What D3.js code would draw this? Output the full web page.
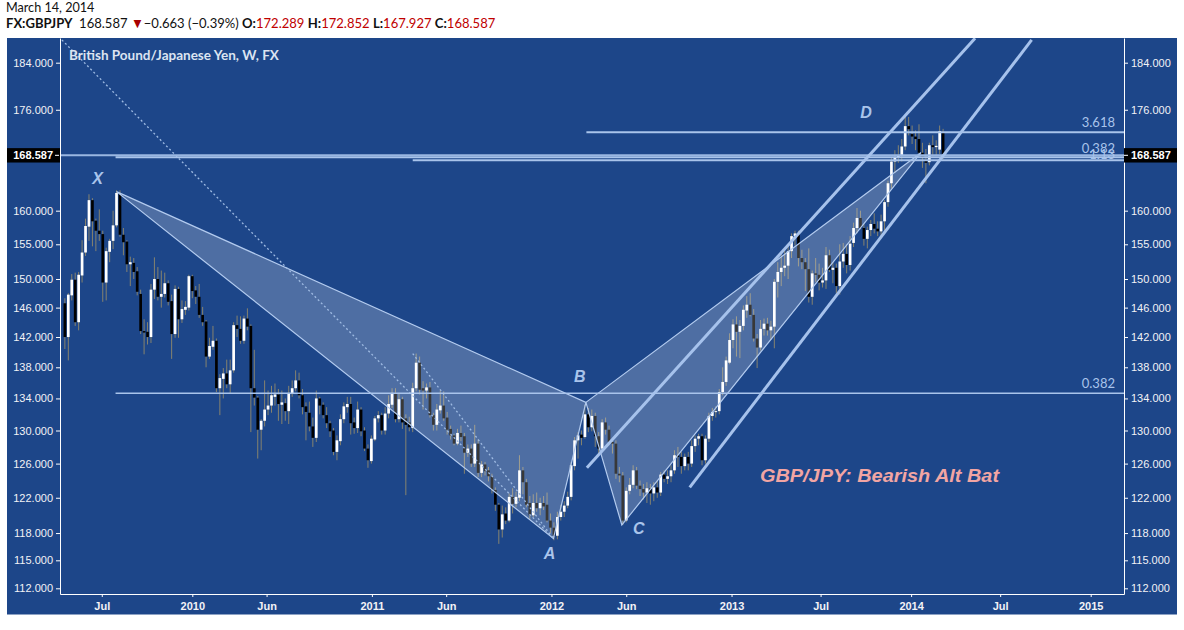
<!DOCTYPE html>
<html><head><meta charset="utf-8">
<script src="https://cdn.jsdelivr.net/npm/d3@7"></script>
<style>body{margin:0;background:#fff;} svg{display:block}</style>
</head><body>
<svg id="c" width="1184" height="630"></svg>
<script>
// ---------------- DATA ----------------
const firstWeek = "2009-04-17";
const opens = [146.6,142.0,147.7,149.9,144.0,150.5,153.8,157.6,161.6,158.5,157.0,156.5,149.5,153.9,155.5,157.8,162.7,156.4,155.4,152.1,152.3,151.1,147.9,142.8,142.7,142.0,148.5,150.0,147.5,147.9,149.4,146.9,142.4,148.6,144.4,145.7,146.0,150.4,148.4,147.5,145.0,144.1,139.4,140.7,141.5,135.3,136.5,137.2,135.8,137.6,143.6,143.1,141.5,144.5,143.5,135.3,134.1,130.1,131.2,132.6,133.1,134.2,134.5,133.2,133.4,132.4,134.6,135.3,136.3,134.4,133.0,132.2,130.5,129.1,134.0,133.2,131.9,130.9,130.0,127.4,128.7,131.4,132.9,133.3,131.0,130.3,132.6,130.0,127.8,126.3,128.9,131.5,131.9,130.0,132.1,133.2,134.7,131.4,133.9,131.5,131.0,130.3,135.3,138.6,135.3,135.0,135.4,131.9,130.7,132.5,133.1,131.6,130.2,129.4,128.4,129.7,129.3,127.3,127.8,126.0,128.4,124.9,125.9,125.2,124.5,122.9,121.2,118.4,120.2,119.4,122.1,121.3,122.0,125.2,123.8,121.4,120.0,121.4,120.8,121.4,121.2,119.4,118.6,117.7,119.8,120.4,121.1,122.1,125.7,128.8,129.5,129.2,132.0,130.4,131.8,129.3,127.8,131.0,130.1,128.6,128.4,124.8,124.6,119.4,122.8,123.5,125.2,123.4,123.0,122.6,123.1,122.5,123.2,122.6,124.7,124.2,124.5,125.2,127.0,126.8,125.7,126.8,126.0,128.1,129.0,129.3,126.4,129.0,131.8,132.3,132.4,134.8,136.1,138.6,141.6,143.7,142.7,143.5,145.6,146.4,145.0,141.8,140.6,143.1,143.8,142.9,143.4,149.6,151.0,151.6,151.9,154.0,156.2,156.6,153.0,152.4,151.4,147.5,150.8,150.6,149.5,149.8,153.4,151.3,151.6,149.0,152.5,153.6,152.0,155.2,157.4,158.9,157.4,155.8,157.1,158.0,157.3,156.9,158.4,161.3,164.2,167.6,168.2,168.6,170.0,173.3,172.0,171.6,171.2,169.0,167.9,167.5,170.2,169.9,169.5,172.289];
const highs = [147.3,148.0,150.7,150.9,151.0,155.6,158.8,162.5,161.9,158.8,160.2,157.0,154.5,155.8,160.0,163.1,163.1,157.4,155.6,153.2,153.0,151.7,148.5,144.4,144.0,149.3,153.1,151.7,151.2,150.9,149.8,147.8,149.1,148.9,147.0,146.9,150.6,150.6,149.0,149.3,146.1,144.3,141.9,143.5,141.8,137.1,137.9,139.0,139.0,144.0,144.9,144.8,144.9,145.9,143.7,140.3,134.3,131.4,136.3,135.0,135.6,135.9,135.2,135.0,134.0,135.6,136.3,137.6,137.3,135.2,133.5,133.6,131.6,135.0,134.2,133.5,132.9,131.2,130.3,129.4,132.0,133.5,134.2,134.2,131.6,133.6,132.9,130.4,128.3,129.4,131.8,132.4,132.2,132.9,134.4,135.3,135.3,134.7,134.2,132.0,131.7,136.0,139.8,139.4,136.2,135.9,136.1,132.2,133.3,135.0,134.9,132.3,130.6,129.6,130.2,130.6,129.7,128.3,128.3,130.7,128.9,126.3,126.2,125.6,124.8,123.2,121.4,121.1,120.9,122.5,123.1,122.7,127.0,125.6,124.2,122.2,122.4,122.6,122.0,122.2,122.6,120.2,119.2,120.4,121.2,121.6,122.7,126.2,129.2,129.8,130.0,133.2,132.8,132.6,132.2,129.8,131.4,131.6,130.6,129.0,128.8,125.6,125.0,123.2,124.3,125.8,125.6,124.0,123.6,123.8,123.6,123.8,124.0,125.0,125.2,125.2,125.8,127.6,128.0,127.4,127.2,127.4,128.8,129.4,129.6,129.6,129.4,132.2,132.8,133.0,135.2,138.0,139.4,142.5,144.4,144.8,144.3,146.3,147.6,148.0,145.8,142.4,144.3,144.5,144.6,144.2,150.0,152.4,153.6,154.4,155.0,156.6,157.0,157.0,154.2,153.0,154.4,151.2,153.0,152.2,151.6,154.6,154.2,152.4,152.2,155.0,155.2,155.0,156.2,158.2,160.4,160.0,158.0,157.6,158.6,159.6,158.4,159.4,161.6,164.6,168.2,169.4,170.2,171.2,174.9,174.8,173.4,172.6,173.6,170.6,169.6,170.6,171.8,171.0,173.4,172.852];
const lows = [140.4,138.9,147.0,143.5,142.9,149.5,153.3,155.5,154.7,154.0,155.5,146.8,147.0,152.4,154.3,157.5,156.1,153.4,151.0,149.0,150.0,147.7,142.4,139.7,141.0,141.2,147.2,147.0,146.0,147.4,146.3,139.1,141.9,141.9,143.9,145.0,145.6,147.3,146.5,144.6,143.5,138.0,139.1,140.3,134.8,131.9,134.0,135.3,134.6,137.3,142.0,141.1,141.1,142.9,129.8,133.1,126.6,127.6,130.5,131.9,132.2,133.1,131.2,130.8,131.2,130.8,134.2,134.9,134.0,132.0,128.8,129.9,128.0,128.6,132.0,131.5,130.3,129.2,127.0,126.4,128.2,130.9,132.2,129.5,129.6,129.7,129.3,127.5,125.5,126.0,128.7,131.0,129.5,129.5,131.5,132.8,131.0,131.0,130.2,122.3,129.9,129.8,134.9,134.5,132.6,134.0,131.6,130.0,130.0,132.1,131.2,129.5,128.9,128.2,128.2,128.7,124.8,126.8,125.6,125.6,124.4,124.4,124.6,123.9,122.5,120.5,116.8,117.5,119.0,119.2,120.2,120.9,121.6,122.4,120.9,119.6,119.8,120.4,120.0,120.6,119.2,118.0,117.2,117.3,119.4,119.8,120.8,121.7,125.2,126.6,128.2,129.0,129.8,129.9,128.0,127.2,127.4,129.5,128.2,127.2,124.2,123.8,118.9,119.2,122.4,123.1,123.0,122.2,121.8,121.4,121.2,121.6,122.0,122.2,123.8,123.6,123.8,124.8,125.6,124.8,125.2,125.2,125.6,127.4,128.2,125.8,126.0,128.6,131.2,131.6,132.0,134.4,135.6,138.4,140.5,139.4,139.2,142.9,144.6,144.8,141.4,137.9,140.2,142.2,142.2,141.6,140.5,147.4,149.0,150.4,150.0,153.0,154.8,151.8,151.4,148.3,146.7,146.4,149.6,148.4,148.8,148.6,151.0,149.4,148.0,147.8,151.6,150.8,151.2,154.6,156.6,157.2,154.8,154.4,156.2,156.6,156.2,156.0,157.0,160.6,163.4,165.8,167.4,167.6,169.4,171.8,170.4,169.4,168.2,166.6,164.2,167.0,168.4,168.6,168.8,167.927];
const closes = [142.0,147.8,149.9,144.0,150.6,153.8,157.7,161.6,158.4,157.0,156.5,149.5,154.0,155.5,157.8,162.7,156.4,155.3,152.1,152.4,151.0,148.2,142.8,142.6,142.0,148.5,150.0,147.5,147.9,149.4,146.8,142.4,148.6,144.4,145.8,146.1,150.4,148.3,147.5,145.0,144.0,139.4,140.8,141.5,135.3,136.6,137.2,135.8,137.6,143.6,143.1,141.5,144.5,143.4,135.3,134.1,130.1,131.2,132.6,133.1,134.4,134.5,133.3,133.5,132.4,134.7,135.3,136.3,134.4,132.9,132.3,130.5,129.1,134.0,133.1,131.9,130.9,129.9,127.4,128.8,131.4,133.0,133.3,130.9,130.3,132.6,129.9,127.8,126.4,129.0,131.5,131.9,130.0,132.1,133.3,134.7,131.4,133.9,131.0,130.7,130.4,135.3,138.6,135.1,135.0,135.4,131.9,130.7,132.6,133.1,131.5,130.1,129.4,128.4,129.7,129.2,127.3,127.8,126.0,128.4,124.9,125.9,125.1,124.5,122.9,121.2,118.4,120.1,119.4,122.1,121.3,122.1,125.2,123.8,121.2,120.0,121.4,120.8,121.4,121.0,119.4,118.6,117.7,119.8,120.4,121.1,122.1,125.8,128.8,129.4,129.1,132.0,130.4,131.8,129.3,127.8,131.0,130.1,128.6,128.4,124.8,124.6,119.4,122.8,123.5,125.2,123.4,123.0,122.6,123.1,122.5,123.2,122.6,124.7,124.2,124.5,125.2,127.0,126.8,125.7,126.8,126.0,128.1,129.0,129.3,126.4,129.0,131.8,132.3,132.4,134.8,136.1,138.9,141.6,143.7,142.7,143.5,145.7,146.4,145.0,141.8,140.6,143.1,143.8,142.9,143.4,149.6,151.0,151.6,151.9,154.0,156.2,156.6,153.0,152.4,151.4,147.5,150.8,150.6,149.5,149.8,153.4,151.3,151.6,149.0,152.5,153.6,152.0,155.1,157.4,158.9,157.4,155.8,157.1,158.0,157.3,156.9,158.4,161.3,164.2,167.6,168.2,168.6,170.0,173.3,172.8,171.6,171.2,169.0,168.2,167.4,170.2,169.9,170.1,172.5,168.587];

const yTicks = [184,176,160,155,150,146,142,138,134,130,126,122,118,115,112];
const xTickDates = ["2009-07-01","2010-01-01","2010-06-01","2011-01-01","2011-06-01","2012-01-01","2012-06-01","2013-01-01","2013-07-01","2014-01-01","2014-07-01","2015-01-01"];
const xTickLabels = ["Jul","2010","Jun","2011","Jun","2012","Jun","2013","Jul","2014","Jul","2015"];

const patternNames = ["X","A","B","C","D"];
const patternDates = ["2009-07-31","2012-01-05","2012-03-11","2012-05-23","2014-01-21"];
const patternPrices = [162.9,117.4,133.5,118.9,169.0];

const levelLabels = ["0.382","3.618","0.382","1.13"];
const levelPrices = [134.65,172.3,168.3,167.8];
const levelStarts = ["2009-07-29","2012-03-12","2009-07-29","2011-03-25"];

const channelStartDates = ["2012-03-13","2012-10-08"];
const channelStartPrices = [125.5,123.2];
const channelEndDates = ["2014-05-11","2014-09-03"];
const channelEndPrices = [188.3,188.0];

const dashedStartDates = ["2009-04-11","2011-03-25"];
const dashedStartPrices = [188.0,139.8];

const lastPrice = 168.587;
const headerDate = "March 14, 2014";
const chartTitle = "British Pound/Japanese Yen, W, FX";
const patternTitle = "GBP/JPY: Bearish Alt Bat";

// ---------------- LAYOUT ----------------
const P = {left:60, right:1124, top:38, bottom:594};
const parse = d3.utcParse("%Y-%m-%d");
const x0 = d3.scaleUtc().domain([parse("2010-01-01"), parse("2015-01-01")]).range([192.3,1090.7]);
const x = d3.scaleUtc().domain([x0.invert(P.left), x0.invert(P.right)]).range([P.left,P.right]);
const y0 = d3.scaleLog().domain([112,184]).range([588.3,62.7]);
const y = d3.scaleLog().domain([y0.invert(P.bottom), y0.invert(P.top)]).range([P.bottom,P.top]);

const svg = d3.select("#c");
const LB = "#a9c4eb";
const font = "'Liberation Sans', Arial, sans-serif";

function fitWidth(sel, x0p, w){
  const bw = sel.node().getBBox().width;
  if(bw>0){
    sel.attr("x",0).attr("transform",`translate(${x0p},0) scale(${w/bw},1)`);
  }
}

svg.append("rect").attr("x",7).attr("y",38).attr("width",1170).attr("height",576.5).attr("fill","#1d4689");

svg.append("defs").append("clipPath").attr("id","clip").append("rect")
  .attr("x",P.left).attr("y",P.top).attr("width",P.right-P.left).attr("height",P.bottom-P.top);

const plot = svg.append("g").attr("clip-path","url(#clip)");

// candles
const start = parse(firstWeek);
const dates = opens.map((_,i)=>d3.utcDay.offset(start, 7*i));
const idx = d3.range(opens.length);
plot.append("g").selectAll("line").data(idx).join("line")
  .attr("x1",i=>x(dates[i])).attr("x2",i=>x(dates[i]))
  .attr("y1",i=>y(highs[i])).attr("y2",i=>y(lows[i]))
  .attr("stroke","#86836f").attr("stroke-width",1);
plot.append("g").selectAll("rect").data(idx).join("rect")
  .attr("x",i=>x(dates[i])-1.35).attr("width",2.7)
  .attr("y",i=>y(Math.max(opens[i],closes[i])))
  .attr("height",i=>Math.max(1,Math.abs(y(opens[i])-y(closes[i]))))
  .attr("fill",i=>closes[i]>=opens[i]?"#ffffff":"#000000");

// pattern polygons
const pts = patternNames.map((n,i)=>[x(parse(patternDates[i])), y(patternPrices[i])]);
const tri = [[0,1,2],[2,3,4]];
plot.append("g").selectAll("path").data(tri).join("path")
  .attr("d",t=>d3.line()(t.map(k=>pts[k]))+"Z")
  .attr("fill","rgba(255,255,255,0.22)").attr("stroke","#b3cbef").attr("stroke-width",1.2);

// dashed lines to A
plot.append("g").selectAll("line").data(dashedStartDates).join("line")
  .attr("x1",(d,i)=>x(parse(d))).attr("y1",(d,i)=>y(dashedStartPrices[i]))
  .attr("x2",pts[1][0]).attr("y2",pts[1][1])
  .attr("stroke","#9fbbe3").attr("stroke-width",1.3).attr("stroke-dasharray","2,2.5");

// horizontal levels
plot.append("g").selectAll("line").data(levelPrices).join("line")
  .attr("x1",(d,i)=>x(parse(levelStarts[i]))).attr("x2",P.right)
  .attr("y1",d=>y(d)).attr("y2",d=>y(d))
  .attr("stroke",LB).attr("stroke-width",(d,i)=>i===0?1.5:2);
// last price line
plot.append("line").attr("x1",P.left).attr("x2",P.right).attr("y1",y(lastPrice)).attr("y2",y(lastPrice))
  .attr("stroke","#9ab7e2").attr("stroke-width",2);

// channel lines
plot.append("g").selectAll("line").data(channelStartDates).join("line")
  .attr("x1",d=>x(parse(d))).attr("y1",(d,i)=>y(channelStartPrices[i]))
  .attr("x2",(d,i)=>x(parse(channelEndDates[i]))).attr("y2",(d,i)=>y(channelEndPrices[i]))
  .attr("stroke","#a6c2ec").attr("stroke-width",3);

// level labels
const lblOff = [-5,-5,-4,-1];
svg.append("g").selectAll("text").data(levelLabels).join("text")
  .attr("x",1115).attr("y",(d,i)=>y(levelPrices[i])+lblOff[i]).attr("text-anchor","end")
  .style("font-family","Lato, 'Open Sans', sans-serif").style("font-size","13px").attr("fill",LB).text(d=>d);

// pattern point labels
const pOff = [[-19,-13],[-4,15],[-6,-26],[17,3],[-55,-40]];
svg.append("g").selectAll("text").data(patternNames).join("text")
  .attr("x",(d,i)=>pts[i][0]+pOff[i][0]).attr("y",(d,i)=>pts[i][1]+pOff[i][1]+5.5)
  .attr("text-anchor","middle").style("font-family",font).style("font-size","16px")
  .style("font-weight","bold").style("font-style","italic").attr("fill",LB).text(d=>d);

// title texts
const t1 = svg.append("text").attr("x",69).attr("y",60).style("font-family","Lato, sans-serif")
  .style("font-size","13.5px").style("font-weight","bold").attr("fill","#dce4f1").text(chartTitle);
fitWidth(t1, 69, 211);
const t2 = svg.append("text").attr("x",760).attr("y",482).style("font-family",font)
  .style("font-size","19px").style("font-weight","bold").style("font-style","italic")
  .attr("fill","#f2a5a3").text(patternTitle);
fitWidth(t2, 760, 240);

// axes
const axL = d3.axisLeft(y).tickValues(yTicks).tickFormat(d3.format(".3f")).tickSize(4).tickSizeOuter(0).tickPadding(3);
const axR = d3.axisRight(y).tickValues(yTicks).tickFormat(d3.format(".3f")).tickSize(4).tickSizeOuter(0).tickPadding(3);
const axB = d3.axisBottom(x).tickValues(xTickDates.map(parse)).tickFormat((d,i)=>xTickLabels[i]).tickSize(3).tickSizeOuter(0).tickPadding(5);
function styleAxis(g, bold){
  g.selectAll("path,line").attr("stroke","#ffffff");
  g.selectAll("text").attr("fill","#f2f2f6").style("font-family",font).style("font-size","11px")
   .style("font-weight",bold?"bold":"normal");
}
svg.append("g").attr("transform",`translate(${P.left},0)`).call(axL).call(g=>styleAxis(g,false));
svg.append("g").attr("transform",`translate(${P.right},0)`).call(axR).call(g=>styleAxis(g,false));
svg.append("g").attr("transform",`translate(0,${P.bottom})`).call(axB).call(g=>styleAxis(g,true));

// last price tags
const yl = y(lastPrice);
svg.append("rect").attr("x",7).attr("y",yl-7.2).attr("width",53).attr("height",14.4).attr("fill","#000");
svg.append("rect").attr("x",P.right).attr("y",yl-7.2).attr("width",53).attr("height",14.4).attr("fill","#000");
svg.append("line").attr("x1",55).attr("x2",59).attr("y1",yl).attr("y2",yl).attr("stroke","#fff");
svg.append("line").attr("x1",P.right).attr("x2",P.right+4).attr("y1",yl).attr("y2",yl).attr("stroke","#fff");
svg.append("text").attr("x",53).attr("y",yl+4).attr("text-anchor","end").style("font-family",font)
  .style("font-size","11px").style("font-weight","bold").attr("fill","#fff").text(d3.format(".3f")(lastPrice));
svg.append("text").attr("x",P.right+7).attr("y",yl+4).style("font-family",font)
  .style("font-size","11px").style("font-weight","bold").attr("fill","#fff").text(d3.format(".3f")(lastPrice));

// header
const h1 = svg.append("text").attr("x",6).attr("y",11.5).style("font-family","Lato, sans-serif")
  .style("font-size","13px").attr("fill","#111").text(headerDate);
fitWidth(h1, 6, 89);
const h2 = svg.append("text").attr("x",6).attr("y",28).style("font-family","Lato, sans-serif")
  .style("font-size","14px").attr("fill","#111").style("white-space","pre");
const parts = [["FX:GBPJPY","bold","#111"],["  168.587 ","normal","#111"],["\u25BC","normal","#a80000"],["\u22120.663 (\u22120.39%) ","normal","#111"],
 ["O:","bold","#111"],["172.289 ","normal","#c00000"],["H:","bold","#111"],["172.852 ","normal","#c00000"],
 ["L:","bold","#111"],["167.927 ","normal","#c00000"],["C:","bold","#111"],["168.587","normal","#c00000"]];
parts.forEach(p=>h2.append("tspan").style("font-weight",p[1]).attr("fill",p[2]).text(p[0]));
fitWidth(h2, 6, 490);
</script>
</body></html>
